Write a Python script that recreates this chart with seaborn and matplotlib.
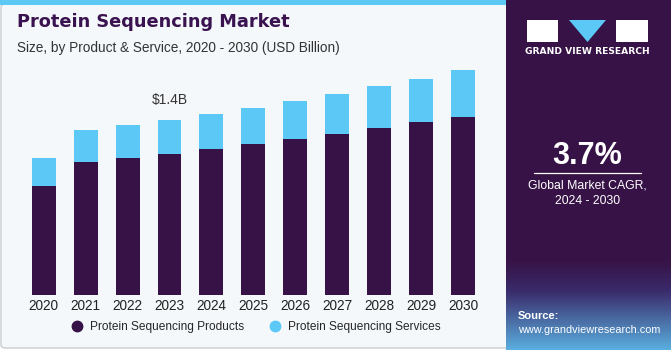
import numpy as np
import pandas as pd
import seaborn as sns
import matplotlib.pyplot as plt
from matplotlib.patches import Rectangle, Polygon, FancyBboxPatch
from matplotlib.lines import Line2D

years = ["2020", "2021", "2022", "2023", "2024", "2025", "2026", "2027", "2028", "2029", "2030"]
products = [0.871, 1.065, 1.097, 1.129, 1.169, 1.206, 1.244, 1.288, 1.331, 1.379, 1.422]
services = [0.221, 0.255, 0.263, 0.271, 0.277, 0.285, 0.303, 0.317, 0.336, 0.346, 0.378]

DARK = "#371246"
LIGHT = "#5BC8F5"
BG = "#F4F8FB"
W, H = 671, 350

df = pd.DataFrame({"year": years, "products": products, "services": services})
df["total"] = df["products"] + df["services"]

sns.set_theme(style="white")
plt.rcParams["font.family"] = ["Liberation Sans", "DejaVu Sans"]

fig = plt.figure(figsize=(W / 100, H / 100), dpi=100)
fig.patch.set_facecolor("white")


def fx(x):
    return x / W


def fy(y):
    return 1 - y / H


# left panel background and top stripe
fig.add_artist(FancyBboxPatch((fx(1), fy(348)), fx(520), fy(4) - fy(348),
                              boxstyle="round,pad=0,rounding_size=0.008",
                              transform=fig.transFigure, facecolor=BG,
                              edgecolor="#C8CDD2", linewidth=1.0, zorder=0))
fig.add_artist(Rectangle((0, fy(5)), fx(506), fy(0) - fy(5), transform=fig.transFigure,
                         facecolor=LIGHT, edgecolor="none", zorder=1))

# right panel with gradient bottom
grad_ax = fig.add_axes([fx(506), 0, 1 - fx(506), 1])
grad_ax.set_axis_off()
n = 350
top = np.array([0x37, 0x12, 0x46]) / 255
mid = np.array([0x3A, 0x2A, 0x6A]) / 255
bot = np.array([0x5A, 0xB0, 0xE0]) / 255
cols = np.zeros((n, 1, 3))
for i in range(n):
    if i < 260:
        cols[i, 0] = top
    elif i < 290:
        t = (i - 260) / 30
        cols[i, 0] = top * (1 - t) + mid * t
    else:
        t = (i - 290) / 60
        cols[i, 0] = mid * (1 - t) + bot * t
grad_ax.imshow(cols, aspect="auto", extent=[0, 1, 0, 1], origin="upper")
grad_ax.set_xlim(0, 1)
grad_ax.set_ylim(0, 1)

# logo
fig.add_artist(Rectangle((fx(527), fy(42)), fx(31), fy(20) - fy(42), transform=fig.transFigure,
                         facecolor="white", edgecolor="none", zorder=3))
fig.add_artist(Rectangle((fx(616), fy(42)), fx(32), fy(20) - fy(42), transform=fig.transFigure,
                         facecolor="white", edgecolor="none", zorder=3))
fig.add_artist(Polygon([(fx(569), fy(20)), (fx(606), fy(20)), (fx(587.5), fy(42))],
                       transform=fig.transFigure, facecolor=LIGHT, edgecolor="none", zorder=3))
fig.text(fx(587.5), fy(51.5), "GRAND VIEW RESEARCH", color="white", fontsize=6.6,
         fontweight="bold", family=["DejaVu Sans"], ha="center", va="center")

fig.text(fx(587.5), fy(156), "3.7%", color="white", fontsize=22, fontweight="bold",
         ha="center", va="center")
fig.add_artist(Line2D([fx(534), fx(641)], [fy(173), fy(173)], transform=fig.transFigure,
                      color="white", linewidth=0.9))
fig.text(fx(587.5), fy(185), "Global Market CAGR,", color="white", fontsize=8.8,
         ha="center", va="center")
fig.text(fx(587.5), fy(201), "2024 - 2030", color="white", fontsize=8.8,
         ha="center", va="center")
fig.text(fx(518), fy(316), "Source:", color="white", fontsize=8, fontweight="bold",
         ha="left", va="center")
fig.text(fx(518), fy(330), "www.grandviewresearch.com", color="white", fontsize=7.8,
         ha="left", va="center")

# titles
fig.text(fx(17), fy(22), "Protein Sequencing Market", color="#3A1250", fontsize=12.8,
         fontweight="heavy", family=["DejaVu Sans"], ha="left", va="center")
fig.text(fx(17), fy(48), "Size, by Product & Service, 2020 - 2030 (USD Billion)",
         color="#333333", fontsize=9.8, ha="left", va="center")

# chart
ax = fig.add_axes([fx(22.75), fy(295), fx(484 - 22.75), fy(60) - fy(295)])
ax.set_facecolor("none")
sns.barplot(data=df, x="year", y="total", color=LIGHT, width=0.57, saturation=1,
            edgecolor="none", ax=ax)
sns.barplot(data=df, x="year", y="products", color=DARK, width=0.57, saturation=1,
            edgecolor="none", ax=ax)
ax.set_xlim(-0.5, 10.5)
ax.set_ylim(0, 235 / 125.2)
ax.set_xlabel("")
ax.set_ylabel("")
ax.set_yticks([])
ax.tick_params(axis="x", length=0, pad=3, labelsize=9.8, labelcolor="#222222")
for s in ax.spines.values():
    s.set_visible(False)

ax.annotate("$1.4B", (3, df["total"][3]), xytext=(0, 9), textcoords="offset points",
            ha="center", va="bottom", fontsize=10, color="#333333")

handles = [
    Line2D([], [], marker="o", linestyle="none", markersize=7.5, color=DARK,
           label="Protein Sequencing Products"),
    Line2D([], [], marker="o", linestyle="none", markersize=7.5, color=LIGHT,
           label="Protein Sequencing Services"),
]
fig.legend(handles=handles, loc="center", bbox_to_anchor=(fx(253), fy(327)), ncol=2,
           frameon=False, fontsize=8.6, handletextpad=0.1, columnspacing=1.6)

fig.savefig("out.png", dpi=100, facecolor=fig.get_facecolor())
